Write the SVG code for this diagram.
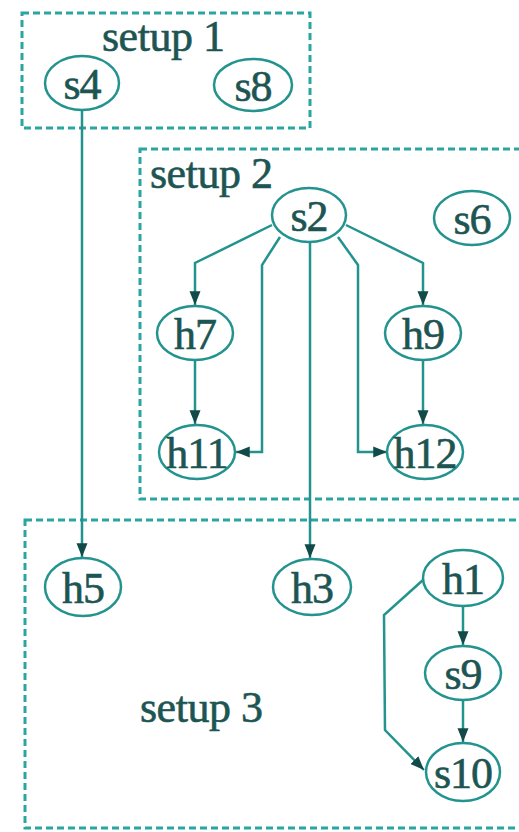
<svg xmlns="http://www.w3.org/2000/svg" width="519" height="832" viewBox="0 0 519 832">
<style>
.box{fill:none;stroke:#2aa5a2;stroke-width:3;stroke-dasharray:7 4}
.nd{fill:none;stroke:#22938f;stroke-width:2.5}
.lbl{font-family:'Liberation Serif','DejaVu Serif','Times New Roman',serif;font-size:44px;fill:#1d5553;stroke:#1d5553;stroke-width:0.6px;text-anchor:middle;letter-spacing:-1px}
.ttl{font-family:'Liberation Serif','DejaVu Serif','Times New Roman',serif;font-size:44px;fill:#1d5553;stroke:#1d5553;stroke-width:0.6px;letter-spacing:-0.5px}
.e{fill:none;stroke:#22938f;stroke-width:2.5;marker-end:url(#ah)}
</style>
<defs>
<marker id="ah" viewBox="0 0 10 10" refX="10" refY="5" markerWidth="5.5" markerHeight="5.5" orient="auto" markerUnits="strokeWidth">
<path d="M0,1 L10,5 L0,9 z" fill="#114a48"/>
</marker>
</defs>
<rect width="519" height="832" fill="#ffffff"/>
<g id="setup1">
<rect class="box" x="22" y="13" width="288" height="115"/>
<text class="ttl" x="102" y="51">setup 1</text>
</g>
<g id="setup2">
<rect class="box" x="140" y="149" width="400" height="350"/>
<text class="ttl" x="150" y="188">setup 2</text>
</g>
<g id="setup3">
<rect class="box" x="25" y="520" width="520" height="308"/>
<text class="ttl" x="140" y="722">setup 3</text>
</g>
<g id="connectors">
<path class="e" d="M82,110 L82,557"/>
<path class="e" d="M272,225 L195,263 L195,305"/>
<path class="e" d="M280,237 L262,265 L262,452 L236,452"/>
<path class="e" d="M310,242 L310,558"/>
<path class="e" d="M338,237 L358,265 L358,452 L387,452"/>
<path class="e" d="M346,225 L423,263 L423,305"/>
<path class="e" d="M195,360 L195,424"/>
<path class="e" d="M423,360 L423,424"/>
<path class="e" d="M463,606 L463,645"/>
<path class="e" d="M463,700 L463,742"/>
<path class="e" d="M423,580 L384,615 L385,730 L424,770"/>
</g>
<g id="s4"><ellipse class="nd" cx="82" cy="83" rx="37" ry="27"/><text class="lbl" x="82" y="99">s4</text></g>
<g id="s8"><ellipse class="nd" cx="253" cy="85" rx="39" ry="26"/><text class="lbl" x="253" y="101">s8</text></g>
<g id="s2"><ellipse class="nd" cx="309" cy="215" rx="37" ry="27"/><text class="lbl" x="309" y="231">s2</text></g>
<g id="s6"><ellipse class="nd" cx="472" cy="218" rx="38" ry="27"/><text class="lbl" x="472" y="234">s6</text></g>
<g id="h7"><ellipse class="nd" cx="195" cy="333" rx="38" ry="27"/><text class="lbl" x="195" y="349">h7</text></g>
<g id="h9"><ellipse class="nd" cx="423" cy="333" rx="38" ry="27"/><text class="lbl" x="423" y="349">h9</text></g>
<g id="h11"><ellipse class="nd" cx="197" cy="452" rx="38" ry="27"/><text class="lbl" x="197" y="468">h11</text></g>
<g id="h12"><ellipse class="nd" cx="425" cy="452" rx="38" ry="27"/><text class="lbl" x="425" y="468">h12</text></g>
<g id="h5"><ellipse class="nd" cx="83" cy="587" rx="38" ry="29"/><text class="lbl" x="83" y="603">h5</text></g>
<g id="h3"><ellipse class="nd" cx="312" cy="587" rx="39" ry="28"/><text class="lbl" x="312" y="603">h3</text></g>
<g id="h1"><ellipse class="nd" cx="463" cy="578" rx="40" ry="28"/><text class="lbl" x="463" y="594">h1</text></g>
<g id="s9"><ellipse class="nd" cx="463" cy="673" rx="38" ry="27"/><text class="lbl" x="463" y="689">s9</text></g>
<g id="s10"><ellipse class="nd" cx="463" cy="772" rx="37" ry="29"/><text class="lbl" x="463" y="788">s10</text></g>
</svg>
